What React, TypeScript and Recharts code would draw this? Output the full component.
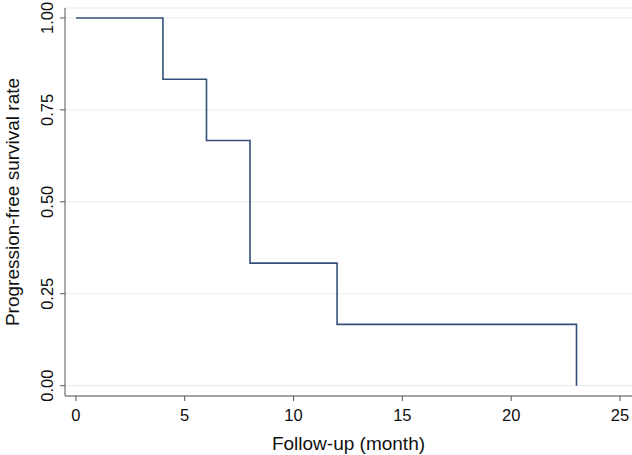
import { CartesianGrid, Label, Line, LineChart, XAxis, YAxis } from "recharts";

const months = [0, 4, 6, 8, 12, 23];
const survivalRate = [1, 0.8333, 0.6667, 0.3333, 0.1667, 0];
const xTicks = [0, 5, 10, 15, 20, 25];
const yTicks = [0, 0.25, 0.5, 0.75, 1];

const data = months.map((month, i) => ({ month, rate: survivalRate[i] }));

const FONT = '"Liberation Sans", Arial, Helvetica, sans-serif';
const INK = "#111";
const AXIS = "#555";

function YTick({ y, payload }: { y: number; payload: { value: number } }) {
  return (
    <text
      x={47.5}
      y={y}
      dy="0.35em"
      transform={`rotate(-90, 47.5, ${y})`}
      textAnchor="middle"
      fontSize={16.5}
      fontFamily={FONT}
      fill={INK}
    >
      {Number(payload.value).toFixed(2)}
    </text>
  );
}

function YTitle({ viewBox }: { viewBox?: { y: number; height: number } }) {
  const cy = viewBox ? viewBox.y + viewBox.height / 2 : 202;
  return (
    <text
      x={19}
      y={cy}
      transform={`rotate(-90, 19, ${cy})`}
      textAnchor="middle"
      fontSize={19}
      fontFamily={FONT}
      fill={INK}
    >
      Progression-free survival rate
    </text>
  );
}

export default function App() {
  return (
    <div style={{ position: "absolute", left: 0, top: 0, background: "#fff", fontFamily: FONT }}>
      <LineChart width={632} height={455} data={data} margin={{ top: 8, right: 0, bottom: 0, left: 0 }}>
        <CartesianGrid vertical={false} stroke="#e4ecee" strokeWidth={1} />
        <XAxis
          type="number"
          dataKey="month"
          domain={[-0.5, 25.55]}
          ticks={xTicks}
          allowDataOverflow
          height={59}
          tickSize={5}
          tickMargin={8}
          axisLine={{ stroke: AXIS }}
          tickLine={{ stroke: AXIS }}
          tick={{ fontSize: 16.5, fill: INK, fontFamily: FONT }}
        >
          <Label
            value="Follow-up (month)"
            position="insideBottom"
            offset={5}
            fontSize={19}
            fill={INK}
            fontFamily={FONT}
          />
        </XAxis>
        <YAxis
          type="number"
          domain={[-0.028, 1.027]}
          ticks={yTicks}
          allowDataOverflow
          width={65}
          tickSize={5}
          axisLine={{ stroke: AXIS }}
          tickLine={{ stroke: AXIS }}
          tick={(props: any) => <YTick {...props} />}
        >
          <Label content={(props: any) => <YTitle {...props} />} />
        </YAxis>
        <Line
          type="stepAfter"
          dataKey="rate"
          stroke="#34507a"
          strokeWidth={1.6}
          dot={false}
          isAnimationActive={false}
        />
      </LineChart>
    </div>
  );
}
